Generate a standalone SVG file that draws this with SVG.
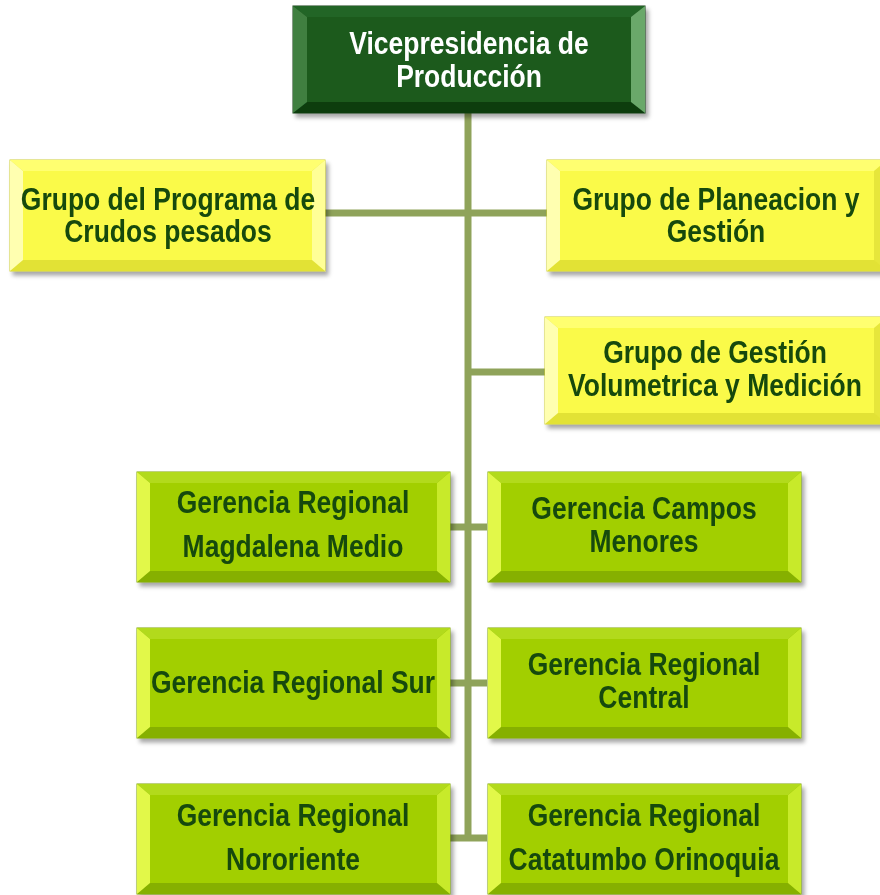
<svg xmlns="http://www.w3.org/2000/svg" xmlns:xlink="http://www.w3.org/1999/xlink" width="880" height="895" viewBox="0 0 880 895">
<style>
  text { font-family: "Liberation Sans", Arial, sans-serif; font-weight: bold; font-size: 26.5px; text-anchor: middle; }
  .dk { fill: #174a0c; }
  .wt { fill: #ffffff; }
  .conn { stroke: #8fa35a; stroke-width: 7; fill: none; }
</style>
<defs>
  <filter id="sh" x="-5%" y="-5%" width="115%" height="120%">
    <feDropShadow dx="3" dy="4" stdDeviation="2" flood-color="#000" flood-opacity="0.35"/>
  </filter>
  <g id="gbox">
    <rect x="0" y="0" width="313" height="110" fill="#8cb800" stroke="#7fa400" stroke-width="1"/>
    <polygon points="0,0 313,0 300,11 13,11" fill="#b2da1a"/>
    <polygon points="0,110 313,110 300,99 13,99" fill="#86b000"/>
    <polygon points="0,0 13,11 13,99 0,110" fill="#e2f84a"/>
    <polygon points="313,0 300,11 300,99 313,110" fill="#c8ea2a"/>
    <rect x="13" y="11" width="287" height="88" fill="#a2cf00"/>
  </g>
</defs>

<g id="connectors">
  <line class="conn" x1="468" y1="113" x2="468" y2="841"/>
  <line class="conn" x1="325" y1="213" x2="547" y2="213"/>
  <line class="conn" x1="468" y1="372" x2="545" y2="372"/>
  <line class="conn" x1="450" y1="527" x2="487" y2="527"/>
  <line class="conn" x1="450" y1="683" x2="487" y2="683"/>
  <line class="conn" x1="450" y1="838" x2="487" y2="838"/>
</g>

<g id="vicepresidencia" filter="url(#sh)">
  <rect x="293" y="6" width="352" height="107" fill="#154f17" stroke="#0f3f10" stroke-width="1"/>
  <polygon points="293,6 645,6 631,17 307,17" fill="#236526"/>
  <polygon points="293,113 645,113 631,102 307,102" fill="#0f3d11"/>
  <polygon points="293,6 307,17 307,102 293,113" fill="#3f7f40"/>
  <polygon points="645,6 631,17 631,102 645,113" fill="#6aa86a"/>
  <rect x="307" y="17" width="324" height="85" fill="#1a5a1c"/>
  <text class="wt" transform="translate(469,54) scale(1,1.15)">Vicepresidencia de</text>
  <text class="wt" transform="translate(469,87) scale(1,1.15)">Producción</text>
</g>

<g id="programa-crudos" filter="url(#sh)">
  <rect x="10" y="160" width="315" height="111" fill="#e6e63a" stroke="#d0d030" stroke-width="1"/>
  <polygon points="10,160 325,160 312,171 23,171" fill="#ffff70"/>
  <polygon points="10,271 325,271 312,260 23,260" fill="#e2e236"/>
  <polygon points="10,160 23,171 23,260 10,271" fill="#ffffb0"/>
  <polygon points="325,160 312,171 312,260 325,271" fill="#ffff96"/>
  <rect x="23" y="171" width="289" height="89" fill="#fafa48"/>
  <text class="dk" transform="translate(168,210) scale(1,1.15)">Grupo del Programa de</text>
  <text class="dk" transform="translate(168,242) scale(1,1.15)">Crudos pesados</text>
</g>

<g id="planeacion" filter="url(#sh)">
  <rect x="547" y="160" width="340" height="111" fill="#e6e63a" stroke="#d0d030" stroke-width="1"/>
  <polygon points="547,160 887,160 874,171 560,171" fill="#ffff70"/>
  <polygon points="547,271 887,271 874,260 560,260" fill="#e2e236"/>
  <polygon points="547,160 560,171 560,260 547,271" fill="#ffffb0"/>
  <rect x="560" y="171" width="314" height="89" fill="#fafa48"/>
  <text class="dk" transform="translate(716,210) scale(1,1.15)">Grupo de Planeacion y</text>
  <text class="dk" transform="translate(716,242) scale(1,1.15)">Gestión</text>
</g>

<g id="volumetrica" filter="url(#sh)">
  <rect x="545" y="317" width="342" height="107" fill="#e6e63a" stroke="#d0d030" stroke-width="1"/>
  <polygon points="545,317 887,317 874,328 558,328" fill="#ffff70"/>
  <polygon points="545,424 887,424 874,413 558,413" fill="#e2e236"/>
  <polygon points="545,317 558,328 558,413 545,424" fill="#ffffb0"/>
  <rect x="558" y="328" width="316" height="85" fill="#fafa48"/>
  <text class="dk" transform="translate(715,363) scale(1,1.15)">Grupo de Gestión</text>
  <text class="dk" transform="translate(715,396) scale(1,1.15)">Volumetrica y Medición</text>
</g>

<g id="magdalena" filter="url(#sh)">
  <use xlink:href="#gbox" x="137" y="472"/>
  <text class="dk" transform="translate(293,513) scale(1,1.15)">Gerencia Regional</text>
  <text class="dk" transform="translate(293,557) scale(1,1.15)">Magdalena Medio</text>
</g>

<g id="campos-menores" filter="url(#sh)">
  <use xlink:href="#gbox" x="488" y="472"/>
  <text class="dk" transform="translate(644,519) scale(1,1.15)">Gerencia Campos</text>
  <text class="dk" transform="translate(644,552) scale(1,1.15)">Menores</text>
</g>

<g id="sur" filter="url(#sh)">
  <use xlink:href="#gbox" x="137" y="628"/>
  <text class="dk" transform="translate(293,693) scale(1,1.15)">Gerencia Regional Sur</text>
</g>

<g id="central" filter="url(#sh)">
  <use xlink:href="#gbox" x="488" y="628"/>
  <text class="dk" transform="translate(644,675) scale(1,1.15)">Gerencia Regional</text>
  <text class="dk" transform="translate(644,708) scale(1,1.15)">Central</text>
</g>

<g id="nororiente" filter="url(#sh)">
  <use xlink:href="#gbox" x="137" y="784"/>
  <text class="dk" transform="translate(293,826) scale(1,1.15)">Gerencia Regional</text>
  <text class="dk" transform="translate(293,870) scale(1,1.15)">Nororiente</text>
</g>

<g id="catatumbo" filter="url(#sh)">
  <use xlink:href="#gbox" x="488" y="784"/>
  <text class="dk" transform="translate(644,826) scale(1,1.15)">Gerencia Regional</text>
  <text class="dk" transform="translate(644,870) scale(1,1.15)">Catatumbo Orinoquia</text>
</g>
</svg>
